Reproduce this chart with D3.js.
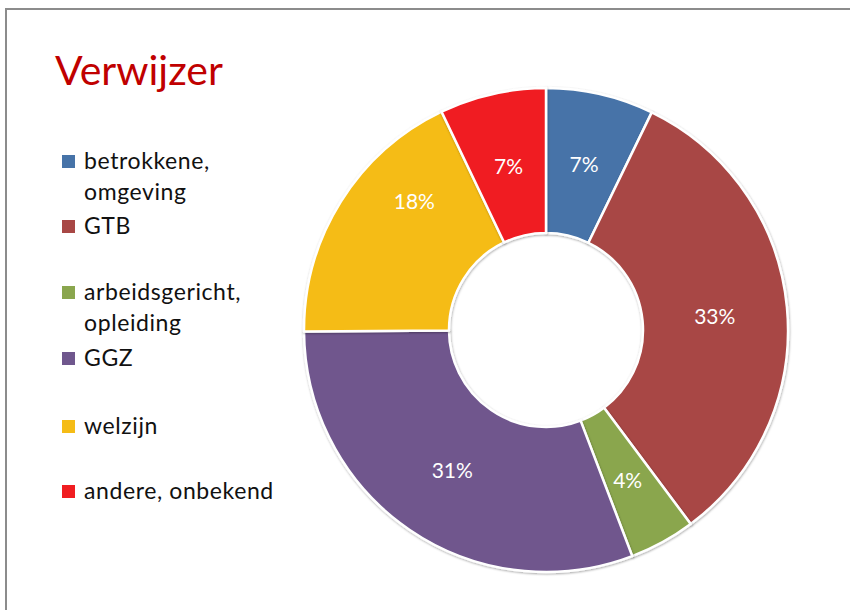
<!DOCTYPE html>
<html>
<head>
<meta charset="utf-8">
<script src="https://cdn.jsdelivr.net/npm/d3@7"></script>
<style>
  body { margin: 0; background: #fff; }
  svg { display: block; font-family: Lato, "Open Sans", sans-serif; }
</style>
</head>
<body>
<svg id="chart" width="850" height="610"></svg>
<script>
// data (shares in %)
const categories = ['betrokkene, omgeving', 'GTB', 'arbeidsgericht, opleiding', 'GGZ', 'welzijn', 'andere, onbekend'];
const legendLines = [['betrokkene,', 'omgeving'], ['GTB'], ['arbeidsgericht,', 'opleiding'], ['GGZ'], ['welzijn'], ['andere, onbekend']];
const values = [7.2, 32.6, 4.4, 30.7, 18.0, 7.1];
const colors = ['#4673A8', '#A84745', '#8AA64E', '#6F578D', '#F5BC16', '#F01D21'];
// the welzijn label sits off-centre in the original
const labelNudge = [[0, 0], [0, 2], [0, 2], [2, 1], [12, -39], [0, 2]];

const svg = d3.select('#chart');
const width = 850, height = 610;

// frame
svg.append('rect')
  .attr('x', 6).attr('y', 9)
  .attr('width', width).attr('height', height)
  .attr('fill', 'none')
  .attr('stroke', '#8c8c8c')
  .attr('stroke-width', 2);

// title
svg.append('text')
  .attr('x', 55).attr('y', 85)
  .attr('fill', '#C00000')
  .attr('font-size', 41)
  .text('Verwijzer');

// legend
const legendRows = [169, 234, 300, 366, 434, 499];
const legend = svg.append('g');
legendLines.forEach((lines, i) => {
  const g = legend.append('g').attr('transform', `translate(0,${legendRows[i]})`);
  g.append('rect')
    .attr('x', 62).attr('y', -14)
    .attr('width', 13).attr('height', 13)
    .attr('fill', colors[i]);
  lines.forEach((t, j) => {
    g.append('text')
      .attr('x', 84).attr('y', j * 31)
      .attr('font-size', 23)
      .attr('letter-spacing', 0.6)
      .attr('fill', '#111')
      .text(t);
  });
});

// donut
const cx = 546, cy = 330;
const outerR = 242, innerR = 97;

const defs = svg.append('defs');
const shadow = defs.append('filter').attr('id', 'shadow')
  .attr('x', '-10%').attr('y', '-10%').attr('width', '120%').attr('height', '120%');
shadow.append('feDropShadow')
  .attr('dx', 0.5).attr('dy', 1)
  .attr('stdDeviation', 1.2)
  .attr('flood-color', '#000')
  .attr('flood-opacity', 0.35);

const pie = d3.pie().sort(null).value(d => d);
const arcs = pie(values);
const arc = d3.arc().innerRadius(innerR).outerRadius(outerR);
const labelArc = d3.arc().innerRadius((innerR + outerR) / 2).outerRadius((innerR + outerR) / 2);
const total = d3.sum(values);

const donut = svg.append('g').attr('transform', `translate(${cx},${cy})`);

donut.selectAll('path.slice')
  .data(arcs)
  .enter().append('path')
  .attr('class', 'slice')
  .attr('d', arc)
  .attr('fill', (d, i) => colors[i])
  .attr('stroke', '#fff')
  .attr('stroke-width', 2.5)
  .attr('stroke-linejoin', 'round')
  .attr('filter', 'url(#shadow)');

donut.selectAll('text.pct')
  .data(arcs)
  .enter().append('text')
  .attr('class', 'pct')
  .attr('transform', (d, i) => {
    const [x, y] = labelArc.centroid(d);
    return `translate(${x + labelNudge[i][0]},${y + labelNudge[i][1]})`;
  })
  .attr('text-anchor', 'middle')
  .attr('dy', '0.36em')
  .attr('font-size', 21)
  .attr('fill', '#fff')
  .text(d => Math.round(d.value / total * 100) + '%');
</script>
</body>
</html>
